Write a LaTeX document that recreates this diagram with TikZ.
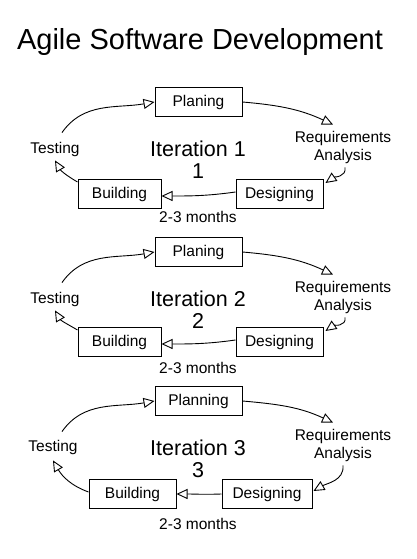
\documentclass[tikz,border=0pt]{standalone}
\usepackage{fontspec}
\setmainfont{Liberation Sans}
\usetikzlibrary{arrows.meta}
\newcommand\lblfont{\fontsize{15.5}{18}\selectfont}
\newcommand\itfont{\fontsize{21.5}{22}\selectfont}
\newcommand\ttlfont{\fontsize{29}{34}\selectfont}
\begin{document}
\begin{tikzpicture}[x=1pt,y=1pt,
  box/.style={draw, line width=1pt, minimum height=29pt, inner sep=0pt, font=\lblfont},
  lbl/.style={font=\lblfont, inner sep=0pt, align=center},
  itl/.style={font=\itfont, inner sep=0pt, align=center},
  arr/.style={line width=0.9pt, -{Triangle[open,length=11pt,width=10pt,line width=0.9pt]}}
]
\fill[white] (0,0) rectangle (416,559);
\useasboundingbox (0,0) rectangle (416,559);

\node[anchor=base, font=\ttlfont, inner sep=0pt] (title) at (200,509) {Agile Software Development};

% Iteration 1
\node[box,minimum width=87pt] (P1) at (198.5,457) {Planing};
\node[lbl] (R1) at (343,412) {Requirements\\Analysis};
\node[box,minimum width=87pt] (D1) at (279.5,365) {Designing};
\node[box,minimum width=83pt] (B1) at (119.5,365) {Building};
\node[lbl] (T1) at (55,410) {Testing};
\node[itl] (I1) at (198,399) {Iteration 1\\1};
\node[lbl] (M1) at (198,342.5) {2-3 months};
\draw[arr] ([xshift=7pt,yshift=9pt]T1.north) to[out=55,in=190] (P1.west);
\draw[arr] (P1.east) to[out=-5,in=155] ([xshift=-10pt,yshift=6pt]R1.north);
\draw[arr] ([xshift=2pt,yshift=-4pt]R1.south) to[out=-80,in=35] ([xshift=2pt,yshift=-4pt]D1.north east);
\draw[arr] ([yshift=2pt]D1.west) to[out=188,in=0] ([yshift=-2pt]B1.east);
\draw[arr] ([yshift=-3pt]B1.north west) to[out=150,in=-60] ([yshift=-4pt]T1.south);

% Iteration 2
\node[box,minimum width=87pt] (P2) at (198.5,307) {Planing};
\node[lbl] (R2) at (343,262) {Requirements\\Analysis};
\node[box,minimum width=87pt] (D2) at (279.5,217) {Designing};
\node[box,minimum width=83pt] (B2) at (119.5,217) {Building};
\node[lbl] (T2) at (55,260) {Testing};
\node[itl] (I2) at (198,249) {Iteration 2\\2};
\node[lbl] (M2) at (198,191.5) {2-3 months};
\draw[arr] ([xshift=7pt,yshift=9pt]T2.north) to[out=55,in=190] (P2.west);
\draw[arr] (P2.east) to[out=-5,in=155] ([xshift=-10pt,yshift=6pt]R2.north);
\draw[arr] ([xshift=2pt,yshift=-4pt]R2.south) to[out=-80,in=35] ([xshift=2pt,yshift=-4pt]D2.north east);
\draw[arr] ([yshift=2pt]D2.west) to[out=188,in=0] ([yshift=-2pt]B2.east);
\draw[arr] ([yshift=-3pt]B2.north west) to[out=150,in=-60] ([yshift=-4pt]T2.south);

% Iteration 3
\node[box,minimum width=87pt] (P3) at (198.5,158) {Planning};
\node[lbl] (R3) at (343,114) {Requirements\\Analysis};
\node[box,minimum width=90pt] (D3) at (267,65) {Designing};
\node[box,minimum width=87pt] (B3) at (132.5,65) {Building};
\node[lbl] (T3) at (53,112) {Testing};
\node[itl] (I3) at (198,100) {Iteration 3\\3};
\node[lbl] (M3) at (198,35.5) {2-3 months};
\draw[arr] ([xshift=9pt,yshift=8pt]T3.north) to[out=55,in=190] (P3.west);
\draw[arr] (P3.east) to[out=-5,in=155] ([xshift=-10pt,yshift=6pt]R3.north);
\draw[arr] ([yshift=-4pt]R3.south) to[out=-85,in=30] ([xshift=1pt,yshift=3pt]D3.east);
\draw[arr] (D3.west) to[out=182,in=0] (B3.east);
\draw[arr] ([yshift=2pt]B3.west) to[out=160,in=-60] ([yshift=-6pt]T3.south);
\end{tikzpicture}
\end{document}
